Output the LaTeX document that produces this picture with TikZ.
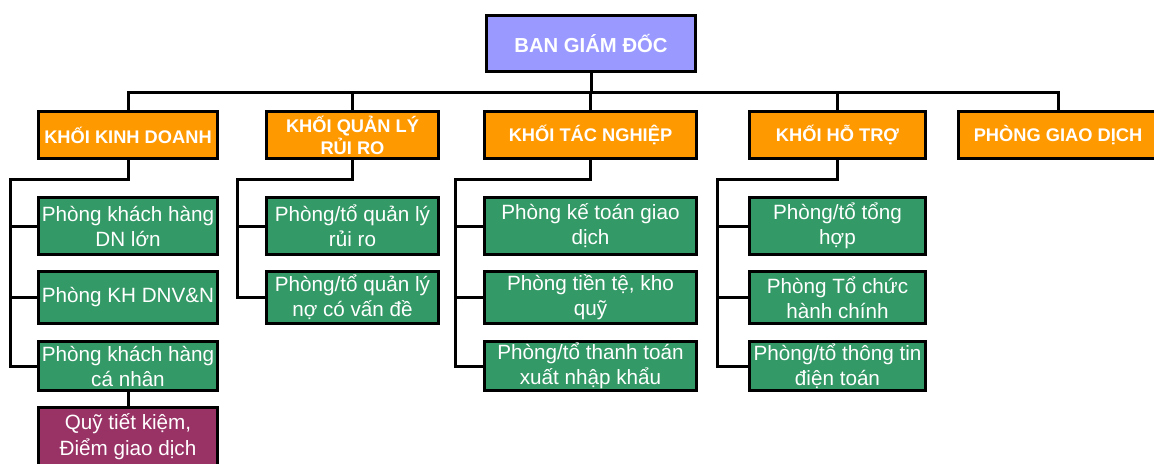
\documentclass[tikz,border=0pt]{standalone}
\usepackage{fontspec}
\setmainfont{Liberation Sans}
\usetikzlibrary{positioning}

\definecolor{bgdviolet}{HTML}{9999FF}
\definecolor{khoiorange}{HTML}{FF9900}
\definecolor{phonggreen}{HTML}{339966}
\definecolor{quypurple}{HTML}{993366}

\begin{document}
\begin{tikzpicture}[x=0.75pt, y=-0.75pt,
    line width=2.25pt,
    box/.style={draw=black, line width=2.25pt, inner sep=0pt, align=center, text=white},
    wd/.style={minimum width=#1*0.75pt},
    ht/.style={minimum height=#1*0.75pt},
    board/.style={box, fill=bgdviolet, wd=209, ht=56,
        font=\fontsize{15.2}{18}\selectfont\bfseries},
    khoi/.style={box, fill=khoiorange, ht=47,
        font=\fontsize{13.7}{16.5}\selectfont\bfseries},
    phong/.style={box, fill=phonggreen, font=\fontsize{15.5}{18.75}\selectfont},
    quy/.style={box, fill=quypurple, font=\fontsize{15.5}{19.5}\selectfont}]
    \useasboundingbox (0,0) rectangle (1154,464);

    % top
    \node[board] (bgd) at (591,43.5) {BAN GIÁM ĐỐC};

    % khoi
    \node[khoi, wd=179] (kd) at (128,135) {KHỐI KINH DOANH};
    \node[khoi, wd=172] (ql) at (352.5,135) {KHỐI QUẢN LÝ\\RỦI RO};
    \node[khoi, wd=212] (tn) at (590.5,135) {KHỐI TÁC NGHIỆP};
    \node[khoi, wd=176] (hotro) at (837.5,135) {KHỐI HỖ TRỢ};
    \node[khoi, wd=200] (pgd) at (1058,135) {PHÒNG GIAO DỊCH};

    % khoi kinh doanh
    \node[phong, wd=179, ht=57] (kd1) at (128,226) {Phòng khách hàng\\DN lớn};
    \node[phong, wd=179, ht=52] (kd2) at (128,297.5) {Phòng KH DNV\&N};
    \node[phong, wd=179, ht=49] (kd3) at (128,366) {Phòng khách hàng\\cá nhân};
    \node[quy, wd=179, ht=60] (qtk) at (128,437) {Quỹ tiết kiệm,\\Điểm giao dịch};

    % khoi quan ly rui ro
    \node[phong, wd=172, ht=57] (ql1) at (352.5,226) {Phòng/tổ quản lý\\rủi ro};
    \node[phong, wd=172, ht=52] (ql2) at (352.5,297.5) {Phòng/tổ quản lý\\nợ có vấn đề};

    % khoi tac nghiep
    \node[phong, wd=212, ht=57] (tn1) at (590.5,226) {Phòng kế toán giao\\dịch};
    \node[phong, wd=212, ht=52] (tn2) at (590.5,297.5) {Phòng tiền tệ, kho\\quỹ};
    \node[phong, wd=212, ht=49] (tn3) at (590.5,366) {Phòng/tổ thanh toán\\xuất nhập khẩu};

    % khoi ho tro
    \node[phong, wd=176, ht=57] (ht1) at (837.5,226) {Phòng/tổ tổng\\hợp};
    \node[phong, wd=176, ht=52] (ht2) at (837.5,297.5) {Phòng Tổ chức\\hành chính};
    \node[phong, wd=176, ht=49] (ht3) at (837.5,366) {Phòng/tổ thông tin\\điện toán};

    % connectors
    \coordinate (bus) at (591,92);
    \coordinate (kdrail) at (10,179);
    \coordinate (qlrail) at (237,179);
    \coordinate (tnrail) at (455,179);
    \coordinate (htrail) at (717,179);

    \draw (bgd.south) -- (bus);
    \foreach \k in {kd,ql,tn,hotro,pgd}
        \draw (\k.north) |- (bus);

    \foreach \p in {kd1,kd2,kd3}
        \draw (\p.west) -| (kdrail) -| (kd.south);
    \foreach \p in {ql1,ql2}
        \draw (\p.west) -| (qlrail) -| (ql.south);
    \foreach \p in {tn1,tn2,tn3}
        \draw (\p.west) -| (tnrail) -| (tn.south);
    \foreach \p in {ht1,ht2,ht3}
        \draw (\p.west) -| (htrail) -| (hotro.south);
    \draw (kd3.south) -- (qtk.north);
\end{tikzpicture}
\end{document}
